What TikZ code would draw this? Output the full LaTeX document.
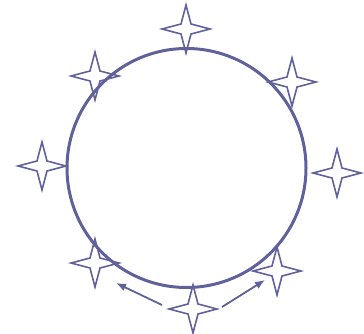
\documentclass[tikz,border=0pt]{standalone}
\usetikzlibrary{arrows.meta}
\definecolor{ink}{RGB}{96,96,155}
\tikzset{
  starshape/.pic={
    \draw[ink,line width=1.6pt,line join=miter]
      (0,24) -- (5,5) -- (24,0) -- (5,-5) -- (0,-24) -- (-5,-5) -- (-24,0) -- (-5,5) -- cycle;
  },
  ringline/.style={ink,line width=3pt},
  arrowline/.style={ink,line width=1.8pt,-{Latex[length=10pt,width=8pt]}}
}
\begin{document}
\begin{tikzpicture}[x=1pt,y=-1pt]
\useasboundingbox (0,0) rectangle (364,334);
% star centres
\coordinate (sTop) at (186,29);
\coordinate (sUL) at (95,76);
\coordinate (sUR) at (292,82);
\coordinate (sL) at (42,166);
\coordinate (sR) at (337,173);
\coordinate (sLL) at (95,263);
\coordinate (sLR) at (277,271);
\coordinate (sB) at (193,309);
\foreach \s in {sTop,sUL,sUR,sL,sR,sLL,sLR,sB}
  \pic at (\s) {starshape};
% ring
\node[circle,ringline,draw,minimum size=239pt,inner sep=0pt] (ring) at (186.5,168) {};
% arrows
\coordinate (aLs) at (162,305);
\coordinate (aLe) at (116,283);
\coordinate (aRs) at (222,307);
\coordinate (aRe) at (265,280);
\draw[arrowline] (aLs) -- (aLe);
\draw[arrowline] (aRs) -- (aRe);
\end{tikzpicture}
\end{document}
